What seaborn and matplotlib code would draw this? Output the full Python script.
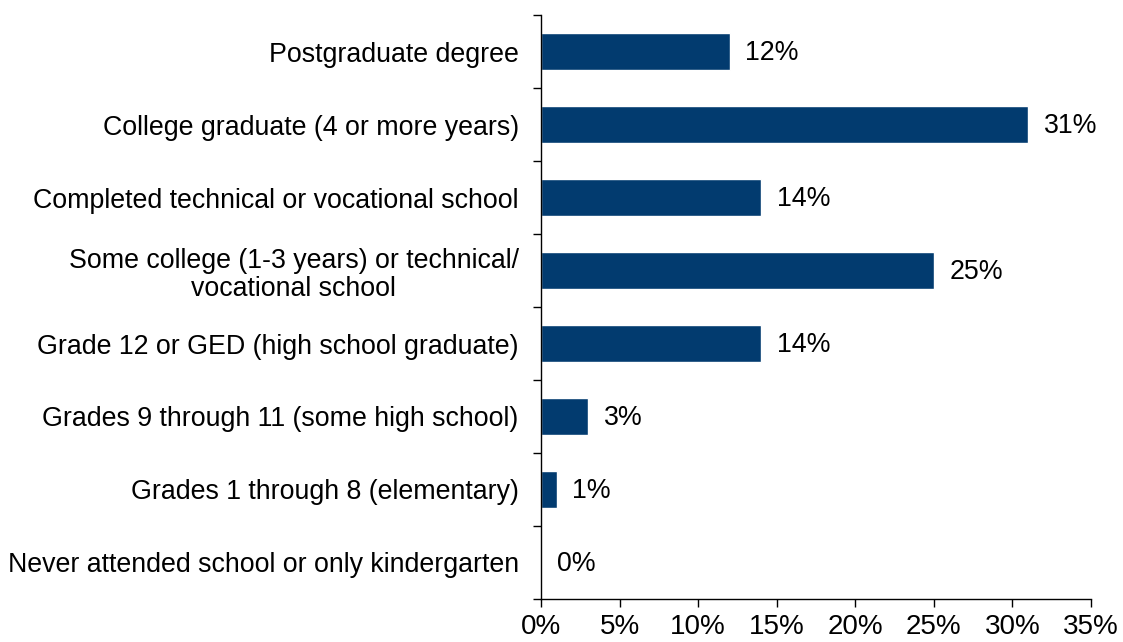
import numpy as np
import pandas as pd
import matplotlib
matplotlib.use("Agg")
import matplotlib.pyplot as plt
import seaborn as sns
from matplotlib.ticker import FixedLocator, PercentFormatter

sns.set_style("white")
plt.rcParams['font.family'] = ['Liberation Sans', 'DejaVu Sans']
plt.rcParams['text.color'] = 'black'
plt.rcParams['xtick.color'] = 'black'
plt.rcParams['ytick.color'] = 'black'

# Data
categories = [
    "Postgraduate degree",
    "College graduate (4 or more years)",
    "Completed technical or vocational school",
    "Some college (1-3 years) or technical/\nvocational school",
    "Grade 12 or GED (high school graduate)",
    "Grades 9 through 11 (some high school)",
    "Grades 1 through 8 (elementary)",
    "Never attended school or only kindergarten",
]
shares = [12, 31, 14, 25, 14, 3, 1, 0]
xticks = [0, 5, 10, 15, 20, 25, 30, 35]

df = pd.DataFrame({"category": categories, "share": shares})

fig = plt.figure(figsize=(11.23, 6.42), dpi=100)
ax = fig.add_axes([0.4817, 0.067, 0.4898, 0.9096])

sns.barplot(data=df, x="share", y="category", orient="h", color="#023b6f",
            width=0.5, saturation=1, ax=ax)

# value labels
for i, v in enumerate(shares):
    ax.text(v + 1.0, i + 0.02, f"{v}%", va="center", ha="left", fontsize=19.3, color="black")

ax.set_xlim(0, 35)
ax.set_ylim(len(categories) - 0.5, -0.5)
ax.set_xticks(xticks)
ax.xaxis.set_major_formatter(PercentFormatter(decimals=0))
ax.tick_params(axis="x", direction="out", length=6, width=1, labelsize=20,
               bottom=True, pad=5)

# category labels without ticks, separator ticks between categories
ax.tick_params(axis="y", which="major", length=0, labelsize=19.3, pad=16)
ax.yaxis.set_minor_locator(FixedLocator(np.arange(-0.5, len(categories), 1)))
ax.tick_params(axis="y", which="minor", direction="out", length=6, width=1, left=True)
for lbl in ax.get_yticklabels():
    lbl.set_multialignment("center")
    lbl.set_linespacing(1.1)

ax.set_xlabel("")
ax.set_ylabel("")
for s in ["top", "right"]:
    ax.spines[s].set_visible(False)
for s in ["left", "bottom"]:
    ax.spines[s].set_color("black")
    ax.spines[s].set_linewidth(1)

fig.savefig("out.png", dpi=100)
